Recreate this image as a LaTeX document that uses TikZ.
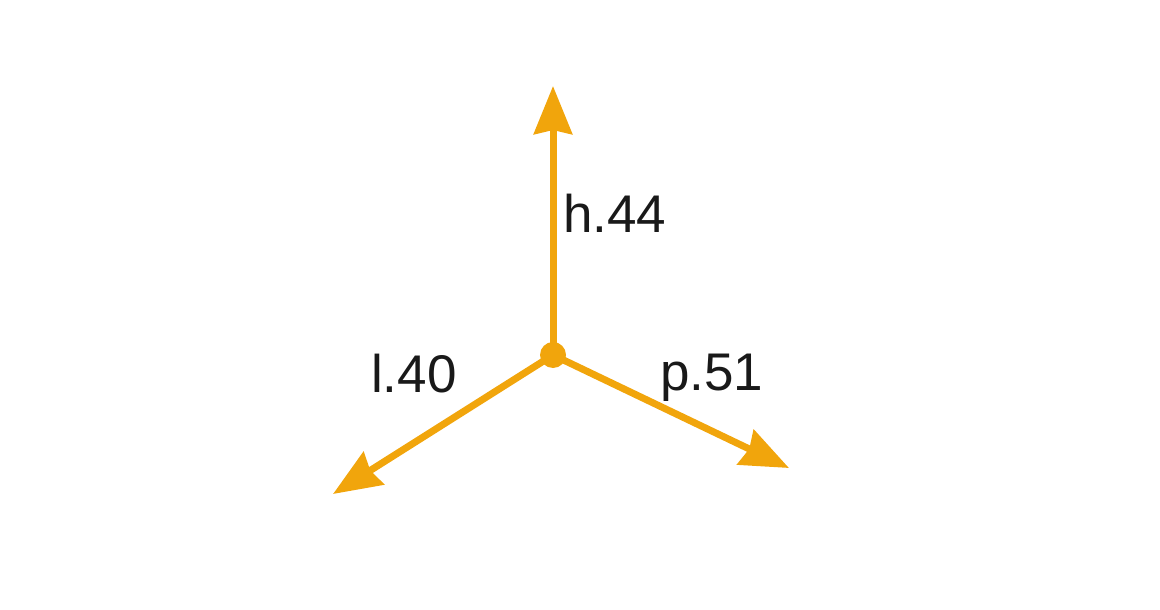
\documentclass[tikz,border=0pt]{standalone}
\usepackage{fontspec}
\setmainfont{Liberation Sans}
\usetikzlibrary{arrows.meta}
\definecolor{vecorange}{RGB}{241,165,12}
\begin{document}
\begin{tikzpicture}[x=1pt,y=-1pt,
  vec/.style={draw=vecorange,line width=7pt,-{Stealth[length=48pt,width=38pt,inset=4pt]}},
  lbl/.style={anchor=base west,inner sep=0pt,font=\fontsize{53}{60}\selectfont,text=black!90}]
\useasboundingbox (0,0) rectangle (1160,610);
\coordinate (c) at (553,355);
\coordinate (up) at (553,86);
\coordinate (lt) at (333,494);
\coordinate (rt) at (789,468);
\draw[vec] (c) -- (up);
\draw[vec] (c) -- (lt);
\draw[vec] (c) -- (rt);
\fill[vecorange] (c) circle (13);
\node[lbl] (h) at (563,232) {h.44};
\node[lbl] (l) at (371,392) {l.40};
\node[lbl] (p) at (660,390) {p.51};
\end{tikzpicture}
\end{document}
